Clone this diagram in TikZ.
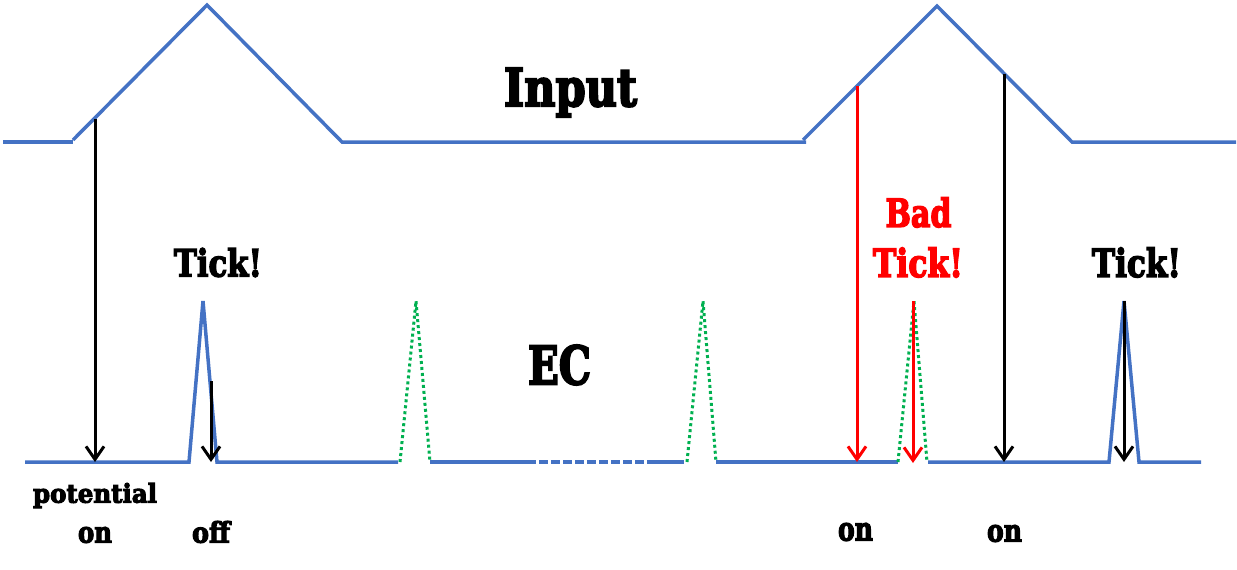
\documentclass[tikz,border=0pt]{standalone}
\usepackage{fontspec}
\setmainfont{DejaVu Serif}[BoldFeatures={FakeBold=4}]
\usepackage{graphicx}
\usetikzlibrary{arrows.meta}
\definecolor{wblue}{HTML}{4472C4}
\definecolor{wgreen}{HTML}{00B050}
\definecolor{wred}{HTML}{FF0000}
\newcommand{\fb}[3]{\resizebox*{#1pt}{#2pt}{\bfseries #3}}
\tikzset{
  wave/.style={wblue, line width=3.5pt},
  ghost/.style={wgreen, line width=3pt, dash pattern=on 3pt off 3pt},
  arr/.style={black, line width=3pt, -{Straight Barb[length=13pt,width=18pt]}},
  badarr/.style={arr, wred},
  lbl/.style={inner sep=0pt, outer sep=0pt}
}
\begin{document}
\begin{tikzpicture}[x=1pt, y=-1pt]
\useasboundingbox (0,0) rectangle (1237,570);
% Input waveform
\draw[wave] (3,142) -- (73,142);
\draw[wave] (73,140) -- (207,5) -- (342,142) -- (806,142);
\draw[wave] (803,140) -- (937,6) -- (1072,142) -- (1236,142);
% EC waveform
\draw[wave] (25,462) -- (189,462) -- (203,301) -- (217,462) -- (398,462);
\draw[ghost] (400,462) -- (416,301) -- (430,462);
\draw[wave] (430,462) -- (536,462);
\draw[wave, dash pattern=on 9pt off 3pt, dash phase=-3pt] (536,462) -- (647,462);
\draw[wave] (647,462) -- (684,462);
\draw[ghost] (687,462) -- (703,301) -- (716,462);
\draw[wave] (716,462) -- (898,462);
\draw[ghost] (898,462) -- (914,301) -- (927,462);
\draw[wave] (928,462) -- (1109,462) -- (1124,301) -- (1139,462) -- (1201,462);
% arrow end points
\coordinate (p1) at (95,119);   \coordinate (q1) at (95,462);
\coordinate (p2) at (211,381);  \coordinate (q2) at (211,462);
\coordinate (p3) at (857,86);   \coordinate (q3) at (857,462);
\coordinate (p4) at (913,301);  \coordinate (q4) at (913,463);
\coordinate (p5) at (1004,74);  \coordinate (q5) at (1004,462);
\coordinate (p6) at (1124,301); \coordinate (q6) at (1124,462);
\draw[arr] (p1) -- (q1);
\draw[arr] (p2) -- (q2);
\draw[badarr] (p3) -- (q3);
\draw[badarr] (p4) -- (q4);
\draw[arr] (p5) -- (q5);
\draw[arr] (p6) -- (q6);
% labels
\node[lbl] (input) at (570.5,92.5) {\fb{133}{49}{Input}};
\node[lbl] (ec) at (559.5,365) {\fb{63}{40}{EC}};
\node[lbl] (tick1) at (218,262.5) {\fb{88}{29}{Tick!}};
\node[lbl, text=wred] (bad) at (918.5,212.5) {\fb{66}{30}{Bad}};
\node[lbl, text=wred] (tick2) at (918,262.5) {\fb{90}{30}{Tick!}};
\node[lbl] (tick3) at (1136.5,262.5) {\fb{89}{30}{Tick!}};
\node[lbl] (pot) at (95,495.5) {\fb{124}{25}{potential}};
\node[lbl] (on1) at (95,535) {\fb{34}{16}{on}};
\node[lbl] (off) at (211,532) {\fb{38}{22}{off}};
\node[lbl] (on2) at (855.5,532) {\fb{35}{18}{on}};
\node[lbl] (on3) at (1004.5,533.5) {\fb{35}{17}{on}};
\end{tikzpicture}
\end{document}
